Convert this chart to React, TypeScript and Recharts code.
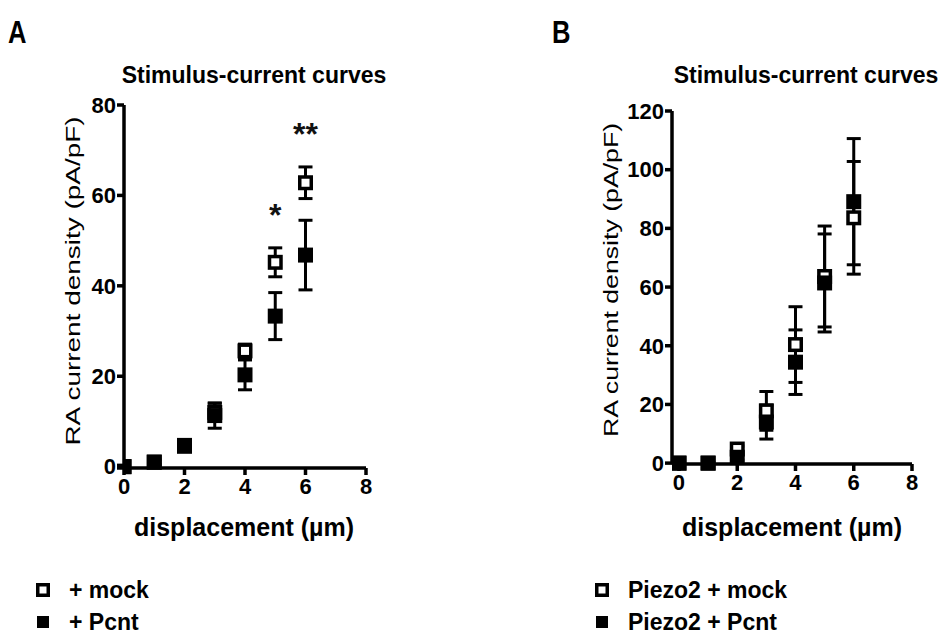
import { ScatterChart, Scatter, XAxis, YAxis, ErrorBar } from 'recharts';

// Panel A: + mock vs + Pcnt
const xA = [0, 1, 2, 3, 4, 5, 6];
const mockA = [0, 1, 4.5, 12, 25.6, 45.2, 62.8];
const mockAErr = [0.3, 0.5, 0.8, 2, 1.5, 3.2, 3.5];
const pcntA = [0, 1, 4.7, 11.3, 20.3, 33.3, 46.8];
const pcntAErr = [0.3, 0.5, 0.8, 2.8, 3.3, 5.2, 7.7];
const sigX = [5, 6];
const sigY = [56, 74];
const sigLabel = ['*', '**'];

// Panel B: Piezo2 + mock vs Piezo2 + Pcnt
const xB = [0, 1, 2, 3, 4, 5, 6];
const mockB = [0, 0, 4.8, 17.8, 40.4, 63.6, 83.6];
const mockBErr = [0.3, 0.3, 1, 6.6, 12.9, 17.2, 19.2];
const pcntB = [0, 0, 2, 14, 34.4, 61.4, 89.1];
const pcntBErr = [0.3, 0.3, 1, 5.8, 11, 16.7, 21.5];

const ticksA = [0, 20, 40, 60, 80];
const ticksB = [0, 20, 40, 60, 80, 100, 120];
const ticksX = [0, 2, 4, 6, 8];

const FONT = '"Liberation Sans", Arial, sans-serif';

const rowsOf = (x: number[], y: number[], e: number[]) =>
  x.map((v, i) => ({ x: v, y: y[i], err: e[i] }));

const sigRows = sigX.map((v, i) => ({ x: v, y: sigY[i], label: sigLabel[i] }));

const OpenSquare = (p: any) => (
  <rect x={p.cx - 5.75} y={p.cy - 5.75} width={11.5} height={11.5} fill="#fff" stroke="#000" strokeWidth={3.5} />
);
const FilledSquare = (p: any) => (
  <rect x={p.cx - 7.5} y={p.cy - 7.5} width={15} height={15} fill="#000" />
);
const Star = (p: any) => (
  <text x={p.cx} y={p.cy + 13} textAnchor="middle" fontSize={32} fontWeight="bold" fontFamily={FONT} fill="#111">
    {p.payload.label}
  </text>
);

const tickStyle = { fontSize: 22, fontWeight: 'bold', fill: '#000', fontFamily: FONT };

function Panel(props: {
  left: number; right: number; top: number; bottom: number; xMin: number;
  yMax: number; yTicks: number[]; mock: any[]; pcnt: any[]; stars?: any[];
}) {
  const W = 941, H = 560;
  return (
    <div style={{ position: 'absolute', left: 0, top: 0 }}>
      <ScatterChart
        width={W}
        height={H}
        margin={{ top: props.top, bottom: H - props.bottom - 40, left: props.left - 50, right: W - props.right }}
      >
        <XAxis
          type="number"
          dataKey="x"
          domain={[props.xMin, 8]}
          ticks={ticksX}
          allowDataOverflow
          height={40}
          stroke="#000"
          strokeWidth={3.5}
          tickSize={7}
          tickMargin={3}
          tick={tickStyle}
        />
        <YAxis
          type="number"
          dataKey="y"
          domain={[0, props.yMax]}
          ticks={props.yTicks}
          width={50}
          stroke="#000"
          strokeWidth={3.5}
          tickSize={7}
          tickMargin={1}
          tick={tickStyle}
        />
        <Scatter data={props.mock} shape={OpenSquare} isAnimationActive={false}>
          <ErrorBar dataKey="err" direction="y" width={7} stroke="#000" strokeWidth={3} />
        </Scatter>
        <Scatter data={props.pcnt} shape={FilledSquare} isAnimationActive={false}>
          <ErrorBar dataKey="err" direction="y" width={7} stroke="#000" strokeWidth={3} />
        </Scatter>
        {props.stars && <Scatter data={props.stars} shape={Star} isAnimationActive={false} />}
      </ScatterChart>
    </div>
  );
}

const txt = (s: any): any => ({ position: 'absolute', fontFamily: FONT, color: '#000', whiteSpace: 'nowrap', ...s });

function LegendItem({ x, y, open, label }: { x: number; y: number; open: boolean; label: string }) {
  return (
    <>
      <svg style={{ position: 'absolute', left: x, top: y - 7 }} width={14} height={14}>
        {open ? (
          <rect x={1.75} y={1.75} width={10.5} height={10.5} fill="#fff" stroke="#000" strokeWidth={3.5} />
        ) : (
          <rect x={1} y={1} width={12} height={12} fill="#000" />
        )}
      </svg>
      <div style={txt({ left: x + 33, top: y - 14, fontSize: 23, fontWeight: 'bold', lineHeight: '28px' })}>{label}</div>
    </>
  );
}

const yLabel = (cx: number, cy: number, scale: number): any =>
  txt({ left: cx, top: cy, fontSize: 21, lineHeight: '24px', transform: `translate(-50%, -50%) rotate(-90deg) scaleX(${scale})` });

export default function App() {
  return (
    <div style={{ position: 'absolute', left: 0, top: 0, width: 941, height: 635, background: '#fff', overflow: 'hidden' }}>
      <Panel left={124} right={366} top={105} bottom={468} xMin={0} yMax={80} yTicks={ticksA}
        mock={rowsOf(xA, mockA, mockAErr)} pcnt={rowsOf(xA, pcntA, pcntAErr)} stars={sigRows} />
      <Panel left={672} right={912} top={111} bottom={464} xMin={-0.24} yMax={120} yTicks={ticksB}
        mock={rowsOf(xB, mockB, mockBErr)} pcnt={rowsOf(xB, pcntB, pcntBErr)} />

      <div style={txt({ left: 8, top: 14, fontSize: 32, fontWeight: 'bold', transform: 'scaleX(0.8)', transformOrigin: 'left' })}>A</div>
      <div style={txt({ left: 552, top: 14, fontSize: 32, fontWeight: 'bold', transform: 'scaleX(0.8)', transformOrigin: 'left' })}>B</div>

      <div style={txt({ left: 254, top: 75, fontSize: 23, fontWeight: 'bold', transform: 'translate(-50%, -50%)' })}>Stimulus-current curves</div>
      <div style={txt({ left: 806, top: 75, fontSize: 23, fontWeight: 'bold', transform: 'translate(-50%, -50%)' })}>Stimulus-current curves</div>

      <div style={yLabel(73, 281, 1.33)}>RA current density (pA/pF)</div>
      <div style={yLabel(611, 280, 1.27)}>RA current density (pA/pF)</div>

      <div style={txt({ left: 244, top: 527, fontSize: 25, fontWeight: 'bold', transform: 'translate(-50%, -50%)' })}>displacement (µm)</div>
      <div style={txt({ left: 792, top: 527, fontSize: 25, fontWeight: 'bold', transform: 'translate(-50%, -50%)' })}>displacement (µm)</div>

      <LegendItem x={36} y={590} open label="+ mock" />
      <LegendItem x={36} y={622} open={false} label="+ Pcnt" />
      <LegendItem x={595} y={590} open label="Piezo2 + mock" />
      <LegendItem x={595} y={622} open={false} label="Piezo2 + Pcnt" />
    </div>
  );
}
